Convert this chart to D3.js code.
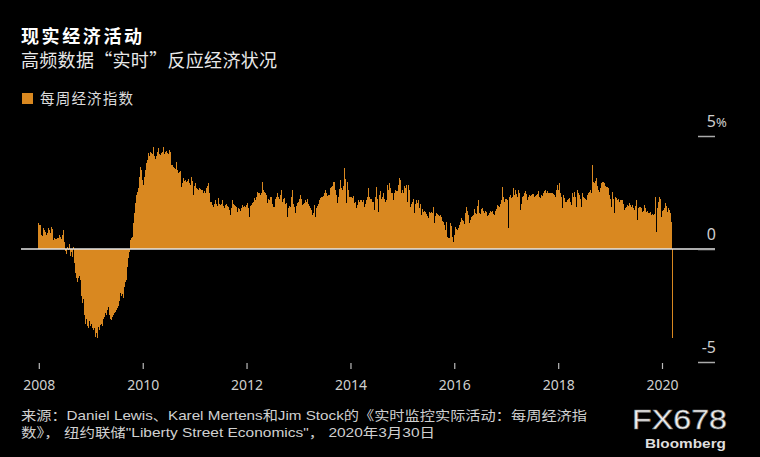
<!DOCTYPE html>
<html><head><meta charset="utf-8">
<script src="https://cdn.jsdelivr.net/npm/d3@7"></script>
<style>
html,body{margin:0;padding:0;background:#000;}
svg{display:block;}
text{font-family:"Noto Sans CJK SC","Noto Sans",sans-serif;}
</style></head>
<body>
<svg id="c" width="760" height="457"></svg>
<script>
// ---- data (weekly index, % ; weeks ending Saturday, starting 2008-01-05) ----
const firstWeek = "2008-01-05";
const w2008 = [1.14,1.06,1.05,0.6,0.57,0.92,0.85,0.75,0.62,0.72,0.92,0.85,0.7,0.99,0.9,0.4,0.5,0.45,0.43,0.5,0.48,0.6,0.55,0.45,0.6,0.84,0.3,-0.1,-0.2,0.1,-0.05,0.2,-0.3,-0.15,-0.35,0.1,-0.6,-1.07,-1.3,-1.45,-1.3,-1.2,-1.35,-2.1,-2.4,-2.2,-2.9,-3.3,-3.1,-3.4,-3.5,-3.2];
const w2009 = [-3.4,-3.3,-3.5,-3.6,-3.5,-3.88,-3.7,-3.95,-3.44,-3.6,-3.36,-3.3,-3.4,-3.1,-3.0,-2.84,-2.9,-2.7,-2.55,-2.9,-3.1,-3.14,-3.0,-2.9,-2.84,-2.8,-2.7,-2.6,-2.5,-2.3,-1.95,-2.1,-2.0,-2.17,-1.67,-1.45,-1.37,-0.78,-0.4,-0.12,0.4,0.5,0.55,1.14,1.6,2.03,2.4,2.54,2.7,3.2,3.64,3.5];
const w2010 = [3.05,2.83,3.2,3.5,3.8,3.94,4.23,4.1,4.3,4.25,4.2,4.53,4.1,4.0,4.1,4.3,4.47,4.2,4.16,4.25,4.3,4.53,4.2,4.3,4.35,4.25,4.2,4.4,4.3,3.72,3.7,3.64,3.6,3.55,3.86,3.5,3.35,3.4,3.45,2.76,2.9,3.13,3.0,3.05,2.98,3.0,3.1,2.9,2.83,3.2,3.0,2.39];
const w2011 = [2.8,2.9,2.7,2.65,2.61,2.7,2.65,2.6,2.6,2.5,2.55,2.46,2.7,2.8,2.9,2.5,2.09,2.1,1.95,1.87,2.0,2.17,2.0,1.9,2.24,2.0,1.95,2.0,2.15,2.31,1.9,1.8,1.95,2.0,1.9,1.85,1.73,1.5,1.8,2.17,2.0,1.95,1.9,1.85,1.65,1.8,1.75,1.7,1.8,1.95,1.85,1.9,1.88];
const w2012 = [1.95,2.02,1.8,1.43,1.9,1.95,2.02,2.1,2.24,2.17,2.3,2.54,2.46,2.5,2.4,2.5,2.98,2.6,2.54,2.5,2.4,2.02,2.2,2.17,2.3,2.31,2.0,1.87,1.87,2.2,2.3,2.46,2.3,2.2,2.4,2.61,2.1,2.2,2.24,2.0,2.05,1.43,1.8,1.9,1.85,2.3,2.61,2.0,1.85,1.58,1.9,2.02];
const w2013 = [2.1,2.2,2.39,2.2,1.95,2.0,2.05,2.17,2.1,2.2,2.0,1.9,1.8,1.73,1.5,1.6,1.95,1.43,1.8,1.9,2.0,2.17,2.24,2.3,2.28,2.35,2.46,2.61,2.5,2.35,2.4,2.4,2.68,2.75,2.8,2.98,2.95,2.6,2.4,2.02,2.3,2.65,3.05,2.7,2.6,2.8,3.57,3.1,2.02,2.98,2.6,2.3];
const w2014 = [2.3,2.31,2.25,2.35,2.02,2.1,1.8,1.95,2.17,2.1,2.15,2.17,2.1,2.17,1.87,2.0,2.17,2.3,2.68,2.3,2.2,2.2,2.1,2.1,1.73,2.3,2.76,2.2,1.65,2.4,2.55,2.2,2.3,2.46,2.2,2.1,2.15,2.83,2.6,2.9,2.7,2.5,2.5,2.17,2.5,2.6,2.58,2.55,2.83,3.13,3.05,2.5];
const w2015 = [2.6,2.46,2.8,2.7,2.83,2.1,2.83,2.6,1.87,2.0,2.1,2.2,1.58,2.0,2.17,2.05,2.17,1.8,2.0,1.5,1.75,1.65,1.7,1.65,1.55,1.45,1.36,1.65,1.6,1.65,1.6,1.87,1.14,1.5,1.45,1.6,1.55,1.5,1.45,1.5,1.4,1.25,1.21,1.06,0.84,1.2,0.55,0.47,0.47,1.15,1.0,0.55];
const w2016 = [0.33,0.6,0.99,0.9,0.85,0.95,1.06,1.2,1.36,1.3,1.25,1.1,1.6,1.87,1.7,1.5,1.14,1.3,1.43,1.45,1.5,1.75,1.6,1.55,1.9,2.17,1.6,1.55,1.75,1.8,1.7,1.6,1.7,1.65,1.45,1.5,1.6,1.7,1.65,1.68,1.55,1.5,1.7,1.75,1.95,1.9,1.85,2.0,2.17,2.76,2.3,2.1,2.2];
const w2017 = [2.2,2.17,0.91,2.3,2.39,2.25,2.3,2.68,2.4,2.61,2.45,2.3,2.6,2.5,1.73,2.0,2.3,2.35,2.5,2.55,2.45,2.15,2.3,2.4,2.35,2.4,2.45,2.45,2.3,2.35,2.4,2.45,2.55,2.3,2.25,2.4,2.35,2.5,2.55,2.61,2.5,2.55,2.5,2.5,2.48,2.5,2.5,2.45,2.4,2.3,2.6,2.83];
const w2018 = [2.6,2.9,2.5,2.31,1.8,2.4,2.24,2.1,2.09,2.17,2.2,2.24,2.1,1.95,2.46,2.3,2.54,2.3,1.87,2.61,2.46,2.4,2.2,1.87,2.46,2.3,2.24,2.2,2.17,2.4,2.46,2.54,2.61,2.5,3.72,2.98,2.9,3.0,3.13,2.8,2.6,2.54,2.7,2.9,2.98,2.95,2.9,2.8,2.76,2.76,2.7,2.39];
const w2019 = [2.2,1.87,2.54,2.2,1.58,2.3,2.24,2.17,2.2,2.09,2.15,2.17,2.17,2.0,1.73,1.8,1.87,1.95,1.9,2.02,1.95,1.87,1.95,1.8,1.73,1.9,2.17,1.28,1.8,1.87,1.85,1.8,1.65,1.7,1.95,1.8,1.65,1.73,1.7,1.58,1.6,1.65,1.5,1.55,1.5,1.55,2.31,0.77,1.8,2.1,2.3,2.2];
const w2020 = [1.43,1.7,1.73,1.8,2.02,1.9,1.65,1.8,1.73,1.6,1.21,-3.95];

const yearTicks = [2008,2010,2012,2014,2016,2018,2020];
const yTicks = [-5,0,5];

const title = "现实经济活动";
const subtitle = "高频数据“实时”反应经济状况";
const legendLabel = "每周经济指数";
const source1 = "来源：Daniel Lewis、Karel Mertens和Jim Stock的《实时监控实际活动：每周经济指";
const source2 = "数》， 纽约联储\"Liberty Street Economics\"， 2020年3月30日";

// ---- build ----
const values = [].concat(w2008,w2009,w2010,w2011,w2012,w2013,w2014,w2015,w2016,w2017,w2018,w2019,w2020);
const start = d3.timeParse("%Y-%m-%d")(firstWeek);
const data = values.map((v,i)=>({date:d3.timeDay.offset(start,7*i), v}));

const ORANGE = "#d98820";
const svg = d3.select("#c");
svg.append("rect").attr("width",760).attr("height",457).attr("fill","#000");

const x = d3.scaleTime().domain([new Date(2008,0,1), new Date(2020,0,1)]).range([38.8, 662]);
const y = d3.scaleLinear().domain([-5,5]).range([362,136]);

// bars
svg.append("g").attr("shape-rendering","crispEdges").selectAll("rect").data(data).join("rect")
  .attr("x", d=>x(d3.timeDay.offset(d.date,-7)))
  .attr("width", d=>(x(d.date)-x(d3.timeDay.offset(d.date,-7))))
  .attr("y", d=>y(Math.max(0,d.v)))
  .attr("height", d=>Math.abs(y(d.v)-y(0)))
  .attr("fill", ORANGE);

// zero line
svg.append("line").attr("x1",21).attr("x2",715).attr("y1",y(0)).attr("y2",y(0))
  .attr("stroke","#e6e6e6").attr("stroke-width",1.6);

// y axis (right)
const yAxis = d3.axisLeft(y).tickValues(yTicks).tickSize(17).tickFormat(d=>String(d));
const gy = svg.append("g").attr("transform","translate(715,0)").call(yAxis);
gy.select(".domain").remove();
gy.selectAll(".tick line").attr("stroke","#aaa").attr("stroke-width",1.5);
gy.selectAll(".tick text").attr("x",1).attr("dy",null).attr("y",-10)
  .attr("text-anchor","end").attr("fill","#cfcfcf")
  .style("font-size","16px").style("font-family","'Noto Sans','DejaVu Sans',sans-serif");
gy.selectAll(".tick").filter(d=>d===5).append("text").text("%")
  .attr("x",1).attr("y",-10).attr("text-anchor","start").attr("fill","#cfcfcf")
  .style("font-size","13px").style("font-family","'Noto Sans','DejaVu Sans',sans-serif");

// x axis
const xAxis = d3.axisBottom(x).tickValues(yearTicks.map(yr=>new Date(yr,0,1)))
  .tickFormat(d3.timeFormat("%Y")).tickSize(6).tickPadding(0);
const gx = svg.append("g").attr("transform","translate(0,363)").call(xAxis);
gx.select(".domain").remove();
gx.selectAll(".tick line").attr("stroke","#bbb").attr("stroke-width",1.2);
gx.selectAll(".tick text").attr("y",27).attr("dy",null).attr("fill","#cfcfcf")
  .style("font-size","14px").style("font-family","'Noto Sans','DejaVu Sans',sans-serif");

// titles
svg.append("text").attr("x",21).attr("y",43).text(title)
  .attr("fill","#fff").style("font-size","18px").style("font-weight","700")
  .attr("textLength",121).attr("lengthAdjust","spacing");
svg.append("text").attr("x",21).attr("y",67).text(subtitle)
  .attr("fill","#e8e8e8").style("font-size","18px")
  .attr("textLength",256).attr("lengthAdjust","spacing");

// legend
svg.append("rect").attr("x",22).attr("y",93).attr("width",11).attr("height",11).attr("fill",ORANGE);
svg.append("text").attr("x",40).attr("y",104).text(legendLabel)
  .attr("fill","#dcdcdc").style("font-size","14.5px")
  .attr("textLength",93).attr("lengthAdjust","spacing");

// source
const srcFont = "'Liberation Sans','Noto Sans CJK SC',sans-serif";
svg.append("text").attr("x",21).attr("y",420).text(source1)
  .attr("fill","#d0d0d0").style("font-size","13px").style("font-family",srcFont)
  .attr("textLength",566).attr("lengthAdjust","spacingAndGlyphs");
svg.append("text").attr("x",21).attr("y",437).text(source2)
  .attr("fill","#d0d0d0").style("font-size","13px").style("font-family",srcFont)
  .attr("textLength",414).attr("lengthAdjust","spacingAndGlyphs");

// logo
svg.append("text").attr("x",632).attr("y",429).text("FX678")
  .attr("fill","#f2f2f2").attr("stroke","#777").attr("stroke-width",0.6)
  .style("font-family","'Liberation Sans',Arial,sans-serif").style("font-size","28px")
  .attr("textLength",95).attr("lengthAdjust","spacingAndGlyphs");
svg.append("text").attr("x",645).attr("y",447.5).text("Bloomberg")
  .attr("fill","#dedede").style("font-family","'Liberation Sans',Arial,sans-serif")
  .style("font-size","13.5px").style("font-weight","700")
  .attr("textLength",81).attr("lengthAdjust","spacingAndGlyphs");
</script>
</body></html>
